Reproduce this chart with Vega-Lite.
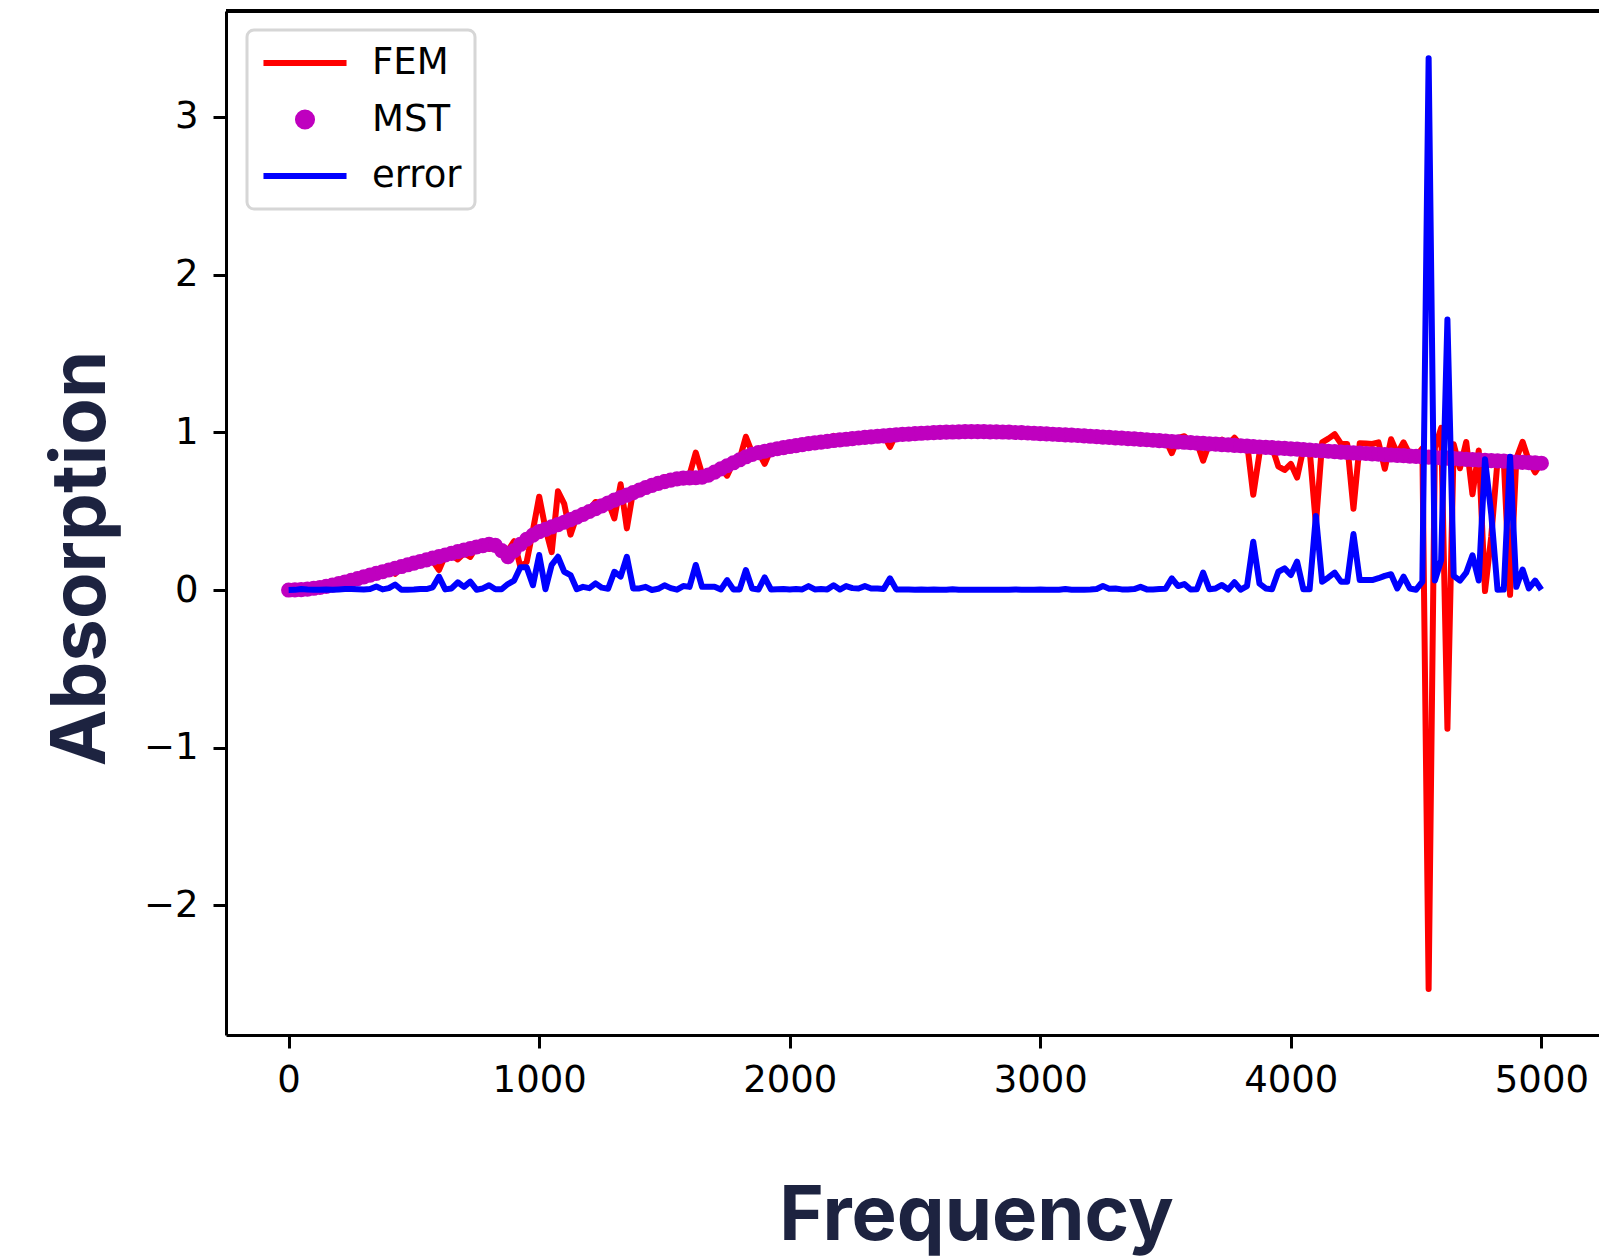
{
"$schema": "https://vega.github.io/schema/vega-lite/v6.json",
"width": 1373, "height": 1024,
"autosize": {"type": "none"},
"padding": {"left": 226, "top": 11, "right": 0, "bottom": 222},
"background": "white",
"config": {
  "view": {"stroke": null},
  "axis": {"labelFont": "DejaVu Sans", "labelFontSize": 37, "labelColor": "black", "tickColor": "black", "tickSize": 13, "tickWidth": 3, "domain": true, "domainColor": "black", "domainWidth": 3, "grid": false, "labelPadding": 14, "titleFont": "Inter", "titleFontWeight": "bold", "titleFontSize": 76, "titleColor": "#1d2340"}
},
"data": {"values": [
{"f":0,"MST":0.000,"FEM":0.000,"error":0.000},
{"f":25,"MST":0.001,"FEM":0.002,"error":0.001},
{"f":50,"MST":0.003,"FEM":0.009,"error":0.006},
{"f":75,"MST":0.006,"FEM":0.009,"error":0.003},
{"f":100,"MST":0.011,"FEM":0.013,"error":0.002},
{"f":125,"MST":0.016,"FEM":0.018,"error":0.002},
{"f":150,"MST":0.023,"FEM":0.026,"error":0.003},
{"f":175,"MST":0.031,"FEM":0.033,"error":0.002},
{"f":200,"MST":0.041,"FEM":0.045,"error":0.004},
{"f":225,"MST":0.051,"FEM":0.057,"error":0.006},
{"f":250,"MST":0.061,"FEM":0.067,"error":0.006},
{"f":275,"MST":0.072,"FEM":0.077,"error":0.005},
{"f":300,"MST":0.083,"FEM":0.087,"error":0.004},
{"f":325,"MST":0.094,"FEM":0.100,"error":0.006},
{"f":350,"MST":0.105,"FEM":0.083,"error":0.022},
{"f":375,"MST":0.116,"FEM":0.120,"error":0.004},
{"f":400,"MST":0.127,"FEM":0.139,"error":0.012},
{"f":425,"MST":0.138,"FEM":0.103,"error":0.035},
{"f":450,"MST":0.149,"FEM":0.151,"error":0.002},
{"f":475,"MST":0.160,"FEM":0.162,"error":0.002},
{"f":500,"MST":0.170,"FEM":0.173,"error":0.003},
{"f":525,"MST":0.181,"FEM":0.187,"error":0.006},
{"f":550,"MST":0.191,"FEM":0.197,"error":0.006},
{"f":575,"MST":0.202,"FEM":0.185,"error":0.017},
{"f":600,"MST":0.212,"FEM":0.127,"error":0.085},
{"f":625,"MST":0.222,"FEM":0.218,"error":0.004},
{"f":650,"MST":0.232,"FEM":0.222,"error":0.010},
{"f":675,"MST":0.243,"FEM":0.194,"error":0.049},
{"f":700,"MST":0.253,"FEM":0.233,"error":0.020},
{"f":725,"MST":0.263,"FEM":0.210,"error":0.053},
{"f":750,"MST":0.273,"FEM":0.275,"error":0.002},
{"f":775,"MST":0.282,"FEM":0.292,"error":0.010},
{"f":800,"MST":0.290,"FEM":0.260,"error":0.030},
{"f":825,"MST":0.283,"FEM":0.288,"error":0.005},
{"f":850,"MST":0.250,"FEM":0.255,"error":0.005},
{"f":875,"MST":0.212,"FEM":0.250,"error":0.038},
{"f":900,"MST":0.250,"FEM":0.310,"error":0.060},
{"f":925,"MST":0.290,"FEM":0.146,"error":0.144},
{"f":950,"MST":0.322,"FEM":0.178,"error":0.144},
{"f":975,"MST":0.348,"FEM":0.378,"error":0.030},
{"f":1000,"MST":0.370,"FEM":0.592,"error":0.222},
{"f":1025,"MST":0.385,"FEM":0.390,"error":0.005},
{"f":1050,"MST":0.400,"FEM":0.240,"error":0.160},
{"f":1075,"MST":0.415,"FEM":0.626,"error":0.211},
{"f":1100,"MST":0.430,"FEM":0.546,"error":0.116},
{"f":1125,"MST":0.446,"FEM":0.351,"error":0.095},
{"f":1150,"MST":0.462,"FEM":0.467,"error":0.005},
{"f":1175,"MST":0.480,"FEM":0.500,"error":0.020},
{"f":1200,"MST":0.498,"FEM":0.510,"error":0.012},
{"f":1225,"MST":0.516,"FEM":0.558,"error":0.042},
{"f":1250,"MST":0.534,"FEM":0.549,"error":0.015},
{"f":1275,"MST":0.552,"FEM":0.560,"error":0.008},
{"f":1300,"MST":0.570,"FEM":0.454,"error":0.116},
{"f":1325,"MST":0.586,"FEM":0.671,"error":0.085},
{"f":1350,"MST":0.602,"FEM":0.391,"error":0.211},
{"f":1375,"MST":0.618,"FEM":0.628,"error":0.010},
{"f":1400,"MST":0.634,"FEM":0.644,"error":0.010},
{"f":1425,"MST":0.650,"FEM":0.670,"error":0.020},
{"f":1450,"MST":0.664,"FEM":0.664,"error":0.000},
{"f":1475,"MST":0.676,"FEM":0.684,"error":0.008},
{"f":1500,"MST":0.687,"FEM":0.717,"error":0.030},
{"f":1525,"MST":0.697,"FEM":0.709,"error":0.012},
{"f":1550,"MST":0.705,"FEM":0.707,"error":0.002},
{"f":1575,"MST":0.710,"FEM":0.735,"error":0.025},
{"f":1600,"MST":0.711,"FEM":0.731,"error":0.020},
{"f":1625,"MST":0.712,"FEM":0.871,"error":0.159},
{"f":1650,"MST":0.716,"FEM":0.736,"error":0.020},
{"f":1675,"MST":0.729,"FEM":0.749,"error":0.020},
{"f":1700,"MST":0.748,"FEM":0.768,"error":0.020},
{"f":1725,"MST":0.768,"FEM":0.771,"error":0.003},
{"f":1750,"MST":0.788,"FEM":0.725,"error":0.063},
{"f":1775,"MST":0.807,"FEM":0.811,"error":0.004},
{"f":1800,"MST":0.826,"FEM":0.830,"error":0.004},
{"f":1825,"MST":0.845,"FEM":0.972,"error":0.127},
{"f":1850,"MST":0.860,"FEM":0.870,"error":0.010},
{"f":1875,"MST":0.871,"FEM":0.874,"error":0.003},
{"f":1900,"MST":0.880,"FEM":0.800,"error":0.080},
{"f":1925,"MST":0.888,"FEM":0.892,"error":0.004},
{"f":1950,"MST":0.896,"FEM":0.901,"error":0.005},
{"f":1975,"MST":0.903,"FEM":0.909,"error":0.006},
{"f":2000,"MST":0.910,"FEM":0.914,"error":0.004},
{"f":2025,"MST":0.916,"FEM":0.922,"error":0.006},
{"f":2050,"MST":0.922,"FEM":0.926,"error":0.004},
{"f":2075,"MST":0.928,"FEM":0.953,"error":0.025},
{"f":2100,"MST":0.933,"FEM":0.937,"error":0.004},
{"f":2125,"MST":0.938,"FEM":0.944,"error":0.006},
{"f":2150,"MST":0.943,"FEM":0.947,"error":0.004},
{"f":2175,"MST":0.948,"FEM":0.978,"error":0.030},
{"f":2200,"MST":0.952,"FEM":0.955,"error":0.003},
{"f":2225,"MST":0.956,"FEM":0.981,"error":0.025},
{"f":2250,"MST":0.960,"FEM":0.972,"error":0.012},
{"f":2275,"MST":0.964,"FEM":0.974,"error":0.010},
{"f":2300,"MST":0.968,"FEM":0.993,"error":0.025},
{"f":2325,"MST":0.971,"FEM":0.981,"error":0.010},
{"f":2350,"MST":0.975,"FEM":0.985,"error":0.010},
{"f":2375,"MST":0.978,"FEM":0.984,"error":0.006},
{"f":2400,"MST":0.981,"FEM":0.907,"error":0.074},
{"f":2425,"MST":0.984,"FEM":0.988,"error":0.004},
{"f":2450,"MST":0.987,"FEM":0.990,"error":0.003},
{"f":2475,"MST":0.989,"FEM":0.992,"error":0.003},
{"f":2500,"MST":0.992,"FEM":0.994,"error":0.002},
{"f":2525,"MST":0.994,"FEM":0.997,"error":0.003},
{"f":2550,"MST":0.996,"FEM":0.998,"error":0.002},
{"f":2575,"MST":0.998,"FEM":1.001,"error":0.003},
{"f":2600,"MST":1.000,"FEM":1.002,"error":0.002},
{"f":2625,"MST":1.001,"FEM":1.003,"error":0.002},
{"f":2650,"MST":1.002,"FEM":1.007,"error":0.005},
{"f":2675,"MST":1.003,"FEM":1.005,"error":0.002},
{"f":2700,"MST":1.004,"FEM":1.005,"error":0.001},
{"f":2725,"MST":1.004,"FEM":1.006,"error":0.002},
{"f":2750,"MST":1.004,"FEM":1.005,"error":0.001},
{"f":2775,"MST":1.004,"FEM":1.006,"error":0.002},
{"f":2800,"MST":1.003,"FEM":1.005,"error":0.002},
{"f":2825,"MST":1.003,"FEM":1.004,"error":0.001},
{"f":2850,"MST":1.002,"FEM":1.004,"error":0.002},
{"f":2875,"MST":1.001,"FEM":1.003,"error":0.002},
{"f":2900,"MST":0.999,"FEM":1.003,"error":0.004},
{"f":2925,"MST":0.998,"FEM":1.000,"error":0.002},
{"f":2950,"MST":0.996,"FEM":0.998,"error":0.002},
{"f":2975,"MST":0.994,"FEM":0.996,"error":0.002},
{"f":3000,"MST":0.992,"FEM":0.995,"error":0.003},
{"f":3025,"MST":0.990,"FEM":0.992,"error":0.002},
{"f":3050,"MST":0.988,"FEM":0.990,"error":0.002},
{"f":3075,"MST":0.986,"FEM":0.988,"error":0.002},
{"f":3100,"MST":0.984,"FEM":0.990,"error":0.006},
{"f":3125,"MST":0.982,"FEM":0.984,"error":0.002},
{"f":3150,"MST":0.980,"FEM":0.982,"error":0.002},
{"f":3175,"MST":0.977,"FEM":0.979,"error":0.002},
{"f":3200,"MST":0.975,"FEM":0.978,"error":0.003},
{"f":3225,"MST":0.973,"FEM":0.979,"error":0.006},
{"f":3250,"MST":0.970,"FEM":0.945,"error":0.025},
{"f":3275,"MST":0.968,"FEM":0.976,"error":0.008},
{"f":3300,"MST":0.965,"FEM":0.975,"error":0.010},
{"f":3325,"MST":0.963,"FEM":0.967,"error":0.004},
{"f":3350,"MST":0.960,"FEM":0.964,"error":0.004},
{"f":3375,"MST":0.958,"FEM":0.964,"error":0.006},
{"f":3400,"MST":0.955,"FEM":0.975,"error":0.020},
{"f":3425,"MST":0.953,"FEM":0.957,"error":0.004},
{"f":3450,"MST":0.950,"FEM":0.954,"error":0.004},
{"f":3475,"MST":0.947,"FEM":0.953,"error":0.006},
{"f":3500,"MST":0.945,"FEM":0.953,"error":0.008},
{"f":3525,"MST":0.942,"FEM":0.868,"error":0.074},
{"f":3550,"MST":0.940,"FEM":0.965,"error":0.025},
{"f":3575,"MST":0.937,"FEM":0.975,"error":0.038},
{"f":3600,"MST":0.935,"FEM":0.938,"error":0.003},
{"f":3625,"MST":0.932,"FEM":0.937,"error":0.005},
{"f":3650,"MST":0.930,"FEM":0.820,"error":0.110},
{"f":3675,"MST":0.927,"FEM":0.932,"error":0.005},
{"f":3700,"MST":0.925,"FEM":0.935,"error":0.010},
{"f":3725,"MST":0.922,"FEM":0.954,"error":0.032},
{"f":3750,"MST":0.920,"FEM":0.923,"error":0.003},
{"f":3775,"MST":0.917,"FEM":0.966,"error":0.049},
{"f":3800,"MST":0.915,"FEM":0.917,"error":0.002},
{"f":3825,"MST":0.912,"FEM":0.937,"error":0.025},
{"f":3850,"MST":0.910,"FEM":0.604,"error":0.306},
{"f":3875,"MST":0.907,"FEM":0.867,"error":0.040},
{"f":3900,"MST":0.905,"FEM":0.915,"error":0.010},
{"f":3925,"MST":0.903,"FEM":0.908,"error":0.005},
{"f":3950,"MST":0.900,"FEM":0.784,"error":0.116},
{"f":3975,"MST":0.898,"FEM":0.761,"error":0.137},
{"f":4000,"MST":0.895,"FEM":0.800,"error":0.095},
{"f":4025,"MST":0.893,"FEM":0.713,"error":0.180},
{"f":4050,"MST":0.890,"FEM":0.895,"error":0.005},
{"f":4075,"MST":0.888,"FEM":0.893,"error":0.005},
{"f":4100,"MST":0.885,"FEM":0.415,"error":0.470},
{"f":4125,"MST":0.883,"FEM":0.936,"error":0.053},
{"f":4150,"MST":0.880,"FEM":0.960,"error":0.080},
{"f":4175,"MST":0.878,"FEM":0.988,"error":0.110},
{"f":4200,"MST":0.875,"FEM":0.928,"error":0.053},
{"f":4225,"MST":0.873,"FEM":0.926,"error":0.053},
{"f":4250,"MST":0.870,"FEM":0.515,"error":0.355},
{"f":4275,"MST":0.868,"FEM":0.931,"error":0.063},
{"f":4300,"MST":0.866,"FEM":0.929,"error":0.063},
{"f":4325,"MST":0.863,"FEM":0.926,"error":0.063},
{"f":4350,"MST":0.861,"FEM":0.936,"error":0.075},
{"f":4375,"MST":0.859,"FEM":0.769,"error":0.090},
{"f":4400,"MST":0.856,"FEM":0.956,"error":0.100},
{"f":4425,"MST":0.854,"FEM":0.864,"error":0.010},
{"f":4450,"MST":0.852,"FEM":0.937,"error":0.085},
{"f":4475,"MST":0.849,"FEM":0.859,"error":0.010},
{"f":4500,"MST":0.847,"FEM":0.849,"error":0.002},
{"f":4525,"MST":0.845,"FEM":0.898,"error":0.053},
{"f":4550,"MST":0.843,"FEM":-2.530,"error":3.373},
{"f":4575,"MST":0.840,"FEM":0.900,"error":0.060},
{"f":4600,"MST":0.838,"FEM":1.028,"error":0.190},
{"f":4625,"MST":0.836,"FEM":-0.880,"error":1.716},
{"f":4650,"MST":0.834,"FEM":0.924,"error":0.090},
{"f":4675,"MST":0.832,"FEM":0.772,"error":0.060},
{"f":4700,"MST":0.829,"FEM":0.939,"error":0.110},
{"f":4725,"MST":0.827,"FEM":0.607,"error":0.220},
{"f":4750,"MST":0.825,"FEM":0.885,"error":0.060},
{"f":4775,"MST":0.823,"FEM":-0.007,"error":0.830},
{"f":4800,"MST":0.821,"FEM":0.341,"error":0.480},
{"f":4825,"MST":0.819,"FEM":0.821,"error":0.002},
{"f":4850,"MST":0.817,"FEM":0.820,"error":0.003},
{"f":4875,"MST":0.815,"FEM":-0.030,"error":0.845},
{"f":4900,"MST":0.812,"FEM":0.832,"error":0.020},
{"f":4925,"MST":0.810,"FEM":0.940,"error":0.130},
{"f":4950,"MST":0.808,"FEM":0.818,"error":0.010},
{"f":4975,"MST":0.806,"FEM":0.746,"error":0.060},
{"f":5000,"MST":0.804,"FEM":0.806,"error":0.002}
]},
"layer": [
 {
  "encoding": {
    "x": {"field": "f", "type": "quantitative",
          "scale": {"domain": [-250, 5230], "nice": false, "zero": false},
          "axis": {"values": [0,1000,2000,3000,4000,5000], "format": "d", "title": "Frequency",
                   "titleX": 750, "titleY": 204, "titleBaseline": "alphabetic", "titleAlign": "center", "labelPadding": 14}},
    "y": {"field": "value", "type": "quantitative",
          "scale": {"domain": [-2.822, 3.672], "nice": false, "zero": false},
          "axis": {"values": [-2,-1,0,1,2,3], "format": "d", "title": "Absorption",
                   "titleX": -122, "titleY": 547, "titleAngle": 270, "titleBaseline": "alphabetic", "titleAlign": "center", "labelPadding": 15}},
    "color": {"field": "series", "type": "nominal",
              "scale": {"domain": ["FEM","MST","error"], "range": ["#ff0000","#bf00bf","#0000ff"]},
              "legend": {
                "title": null, "orient": "none", "legendX": 21, "legendY": 19, "direction": "vertical",
                "symbolType": "stroke", "symbolSize": 6900, "symbolStrokeWidth": 6,
                "labelFont": "DejaVu Sans", "labelFontSize": 37, "labelColor": "black", "labelOffset": 22,
                "padding": 13, "rowPadding": 16.5, "clipHeight": 40,
                "strokeColor": "#d6d6d6", "cornerRadius": 7, "fillColor": "white",
                "encode": {
                  "legend": {"update": {"strokeWidth": {"value": 3}}},
                  "symbols": {"update": {
                  "shape": {"signal": "datum.value === 'MST' ? 'circle' : 'stroke'"},
                  "size": {"signal": "datum.value === 'MST' ? 200 : 6900"},
                  "fill": {"signal": "datum.value === 'MST' ? '#bf00bf' : 'transparent'"},
                  "stroke": {"signal": "datum.value === 'FEM' ? '#ff0000' : (datum.value === 'error' ? '#0000ff' : 'transparent')"},
                  "strokeWidth": {"value": 6},
                  "opacity": {"value": 1}
                }}}
              }}
  },
  "layer": [
    {"transform": [{"fold": ["FEM"], "as": ["series", "value"]}],
     "mark": {"type": "line", "strokeWidth": 6, "strokeJoin": "round"}},
    {"transform": [{"fold": ["MST"], "as": ["series", "value"]}],
     "mark": {"type": "point", "filled": true, "size": 230, "opacity": 1, "strokeWidth": 0}},
    {"transform": [{"fold": ["error"], "as": ["series", "value"]}],
     "mark": {"type": "line", "strokeWidth": 6, "strokeJoin": "round"}}
  ]
 },
 {
  "mark": {"type": "rule", "color": "black", "strokeWidth": 3},
  "encoding": {"y": {"datum": 3.672, "type": "quantitative",
          "axis": {"values": [-2,-1,0,1,2,3], "format": "d", "title": "Absorption",
                   "titleX": -122, "titleY": 547, "titleAngle": 270, "titleBaseline": "alphabetic", "titleAlign": "center", "labelPadding": 15}}}
 }
]
}
